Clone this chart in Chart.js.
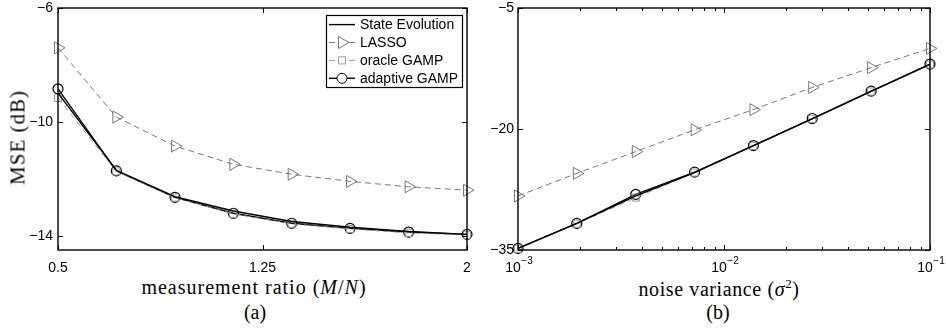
<!DOCTYPE html>
<html>
<head>
<meta charset="utf-8">
<script src="https://cdn.jsdelivr.net/npm/chart.js@4.4.0/dist/chart.umd.min.js"></script>
<style>
  html, body { margin: 0; padding: 0; background: #fff; }
  body { width: 946px; height: 331px; position: relative; overflow: hidden; }
  .panel { position: absolute; top: 0; height: 276px; }
  .cap { position: absolute; font-family: 'Liberation Serif', 'Times New Roman', serif; font-size: 20px; color: #000; text-align: center; white-space: nowrap; line-height: 1; }
  .ytitle { left: -82px; top: 127px; width: 200px; transform: rotate(-90deg); font-size: 21px; letter-spacing: 1px; }
</style>
</head>
<body>
<div class="panel" style="left:0;width:475px"><canvas id="chartA"></canvas></div>
<div class="panel" style="left:475px;width:471px"><canvas id="chartB"></canvas></div>
<div class="cap ytitle">MSE (dB)</div>
<div class="cap" style="left:104px;width:300px;top:277px;letter-spacing:1px">measurement ratio (<i>M</i>/<i>N</i>)</div>
<div class="cap" style="left:105px;width:300px;top:302px">(a)</div>
<div class="cap" style="left:569px;width:300px;top:277px;letter-spacing:0.6px">noise variance (<i>σ</i><sup style="font-size:13px">2</sup>)</div>
<div class="cap" style="left:568px;width:300px;top:302px">(b)</div>
<script>
// (a) MSE vs measurement ratio
const ratio = [0.5, 0.714, 0.929, 1.143, 1.357, 1.571, 1.786, 2.0];
const seA = [-8.99, -11.70, -12.63, -13.13, -13.50, -13.70, -13.85, -13.95];
const lassoA = [-7.40, -9.83, -10.85, -11.49, -11.84, -12.09, -12.28, -12.40];
const oracleA = [-9.16, -11.74, -12.66, -13.23, -13.58, -13.76, -13.90, -13.97];
const adaptiveA = [-8.84, -11.72, -12.65, -13.21, -13.56, -13.74, -13.87, -13.95];
const ratioTicks = [0.5, 1.25, 2];
const mseTicksA = [-14, -10, -6];

// (b) MSE vs noise variance
const noiseVar = [0.001, 0.00193, 0.00373, 0.0072, 0.0139, 0.0268, 0.0518, 0.1];
const seB = [-34.8, -31.7, -28.3, -25.4, -22.05, -18.75, -15.35, -12.0];
const lassoB = [-28.3, -25.5, -22.8, -20.1, -17.6, -14.85, -12.4, -10.0];
const oracleB = [-34.85, -31.75, -28.5, -25.4, -22.1, -18.75, -15.35, -12.0];
const adaptiveB = [-34.8, -31.7, -28.1, -25.35, -22.05, -18.7, -15.3, -11.95];
const noiseTicks = [0.001, 0.01, 0.1];
const noiseExps = ['\u22123', '\u22122', '\u22121'];
const mseTicksB = [-35, -20, -5];

const names = ['State Evolution', 'LASSO', 'oracle GAMP', 'adaptive GAMP'];

const sans = "'Liberation Sans', Arial, sans-serif";
const tickFont = { family: sans, size: 14 };
const minus = v => String(v).replace('-', '\u2212');
const expShift = -5;

// minor tick positions for the log axis (2..9 x 10^k)
const minorNoise = [];
[0.001, 0.01].forEach(d => { for (let k = 2; k <= 9; k++) minorNoise.push(d * k); });

function makeSets(xs, se, lasso, oracle, adaptive) {
  const pts = ys => xs.map((x, i) => ({ x: x, y: ys[i] }));
  return [
    { label: names[0], data: pts(se), borderColor: '#000', borderWidth: 1.4, pointRadius: 0 },
    { label: names[1], data: pts(lasso), borderColor: '#777', borderWidth: 1, borderDash: [6, 4],
      pointStyle: 'triangle', rotation: 90, pointRadius: 7, pointBorderColor: '#777',
      pointBackgroundColor: 'rgba(0,0,0,0)', pointBorderWidth: 1 },
    { label: names[2], data: pts(oracle), borderColor: '#999', borderWidth: 1, borderDash: [6, 4],
      pointStyle: 'rect', pointRadius: 5, pointBorderColor: '#999',
      pointBackgroundColor: 'rgba(0,0,0,0)', pointBorderWidth: 1 },
    { label: names[3], data: pts(adaptive), borderColor: '#000', borderWidth: 1.4,
      pointStyle: 'circle', pointRadius: 5, pointBorderColor: '#000',
      pointBackgroundColor: 'rgba(0,0,0,0)', pointBorderWidth: 1.2 }
  ].map(d => Object.assign({ fill: false, tension: 0, clip: false }, d));
}

// matlab style box with inward tick marks (+ optional superscript exponents)
const matlabAxes = {
  id: 'matlabAxes',
  afterDatasetsDraw(chart, args, opts) {
    const { ctx, chartArea: a, scales: { x, y } } = chart;
    ctx.save();
    ctx.strokeStyle = '#000';
    ctx.lineWidth = 1.4;
    ctx.strokeRect(a.left, a.top, a.width, a.height);
    ctx.lineWidth = 1;
    ctx.beginPath();
    const xMark = (v, len) => {
      const px = Math.round(x.getPixelForValue(v)) + 0.5;
      ctx.moveTo(px, a.bottom); ctx.lineTo(px, a.bottom - len);
      ctx.moveTo(px, a.top); ctx.lineTo(px, a.top + len);
    };
    const yMark = (v, len) => {
      const py = Math.round(y.getPixelForValue(v)) + 0.5;
      ctx.moveTo(a.left, py); ctx.lineTo(a.left + len, py);
      ctx.moveTo(a.right, py); ctx.lineTo(a.right - len, py);
    };
    x.ticks.forEach(t => xMark(t.value, 5));
    (opts.minorX || []).forEach(v => xMark(v, 3));
    y.ticks.forEach(t => yMark(t.value, 5));
    ctx.stroke();
    if (opts.exps) {
      ctx.font = '14px ' + sans;
      const w = ctx.measureText('10').width;
      ctx.font = '10px ' + sans;
      ctx.fillStyle = '#000';
      ctx.textBaseline = 'alphabetic';
      ctx.textAlign = 'left';
      x.ticks.forEach((t, i) => {
        ctx.fillText(opts.exps[i], x.getPixelForValue(t.value) + expShift + w / 2 + 0.5, a.bottom + 14);
      });
    }
    ctx.restore();
  }
};

// framed legend with line + marker samples
const boxLegend = {
  id: 'boxLegend',
  afterDraw(chart, args, opts) {
    if (!opts.show) return;
    const { ctx, chartArea: a } = chart;
    const w = 136, h = 72;
    const x0 = a.right - 5 - w, y0 = a.top + 7;
    ctx.save();
    ctx.fillStyle = '#fff';
    ctx.fillRect(x0, y0, w, h);
    ctx.strokeStyle = '#000';
    ctx.lineWidth = 1.2;
    ctx.strokeRect(x0 + 0.5, y0 + 0.5, w, h);
    ctx.font = '14px ' + sans;
    ctx.textBaseline = 'middle';
    chart.data.datasets.forEach((ds, i) => {
      const yy = y0 + 9.6 + i * 17.9;
      ctx.strokeStyle = ds.borderColor;
      ctx.lineWidth = ds.borderWidth;
      ctx.setLineDash(ds.borderDash || []);
      ctx.beginPath();
      ctx.moveTo(x0 + 3, yy); ctx.lineTo(x0 + 29, yy);
      ctx.stroke();
      ctx.setLineDash([]);
      if (ds.pointRadius) {
        ctx.fillStyle = '#fff';
        ctx.strokeStyle = ds.pointBorderColor;
        ctx.lineWidth = 1;
        Chart.helpers.drawPoint(ctx, { pointStyle: ds.pointStyle, rotation: ds.rotation || 0,
          radius: ds.pointRadius, borderWidth: 1 }, x0 + 16, yy);
      }
      ctx.fillStyle = '#000';
      ctx.fillText(ds.label, x0 + 34, yy + 0.5);
    });
    ctx.restore();
  }
};

function makeChart(id, sets, xScale, yScale, pad, legend, minorX, exps) {
  return new Chart(document.getElementById(id), {
    type: 'line',
    data: { datasets: sets },
    plugins: [matlabAxes, boxLegend],
    options: {
      responsive: true,
      maintainAspectRatio: false,
      animation: false,
      layout: { padding: pad },
      plugins: {
        legend: { display: false },
        tooltip: { enabled: false },
        matlabAxes: { minorX: minorX, exps: exps },
        boxLegend: { show: legend }
      },
      scales: { x: xScale, y: yScale }
    }
  });
}

const common = {
  grid: { display: false, drawTicks: false },
  border: { display: false }
};
const fitX = s => { s.height = 26; s.paddingLeft = 0; s.paddingRight = 0; };
const fitY = w => s => { s.width = w; s.paddingTop = 0; s.paddingBottom = 0; };

makeChart('chartA', makeSets(ratio, seA, lassoA, oracleA, adaptiveA),
  Object.assign({}, common, {
    type: 'linear', min: 0.5, max: 2,
    afterBuildTicks: s => { s.ticks = ratioTicks.map(v => ({ value: v })); },
    afterFit: fitX,
    ticks: { font: tickFont, color: '#000', padding: 10, autoSkip: false, maxRotation: 0,
      callback: v => String(v) }
  }),
  Object.assign({}, common, {
    type: 'linear', min: -14.5, max: -6,
    afterBuildTicks: s => { s.ticks = mseTicksA.map(v => ({ value: v })); },
    afterFit: fitY(58),
    ticks: { font: tickFont, color: '#000', padding: 5, autoSkip: false, callback: minus }
  }),
  { top: 6, right: 5, left: 0, bottom: 0 }, true, [], null);

makeChart('chartB', makeSets(noiseVar, seB, lassoB, oracleB, adaptiveB),
  Object.assign({}, common, {
    type: 'logarithmic', min: 0.001, max: 0.1,
    afterBuildTicks: s => { s.ticks = noiseTicks.map(v => ({ value: v })); },
    afterFit: fitX,
    ticks: { font: tickFont, color: '#000', padding: 10, autoSkip: false, maxRotation: 0,
      labelOffset: expShift, callback: () => '10' }
  }),
  Object.assign({}, common, {
    type: 'linear', min: -35, max: -5,
    afterBuildTicks: s => { s.ticks = mseTicksB.map(v => ({ value: v })); },
    afterFit: fitY(43),
    ticks: { font: tickFont, color: '#000', padding: 4, autoSkip: false, callback: minus }
  }),
  { top: 6, right: 16, left: 0, bottom: 0 }, false, minorNoise, noiseExps);
</script>
</body>
</html>
